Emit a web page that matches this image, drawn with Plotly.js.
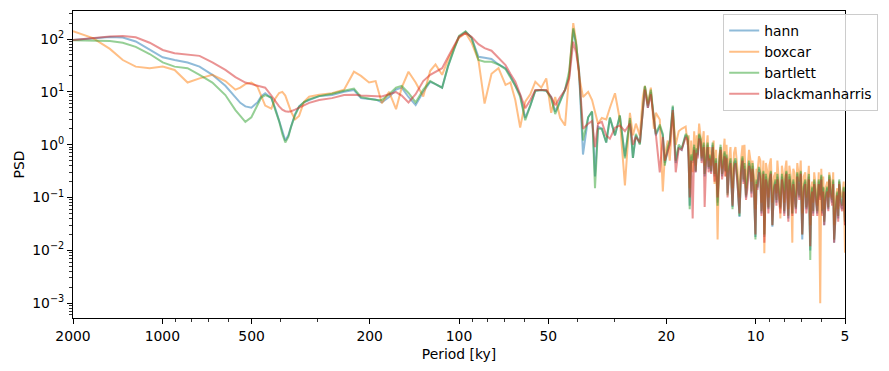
<!DOCTYPE html>
<html>
<head>
<meta charset="utf-8">
<script src="https://cdn.plot.ly/plotly-3.0.1.min.js"></script>
<style>html,body{margin:0;padding:0;background:#fff;}#chart{width:889px;height:371px;}</style>
</head>
<body>
<div id="chart"></div>
<script>
// Period axis [ky]
const period = [2000,1713,1502,1359,1229,1103,997,909,822,749,
678,613,567,546,525,501,478,464,450,429,
416,404,394,385,376,368,357,346,333,320,
296,268,244,226,214,201,191,182,172,163,
156,148,140,132,125,120,114,109,104,100,
95,90.7,86,82,77.7,73.6,69.7,67.1,64.6,62.2,
59.8,57.5,55.3,52.8,50.8,48.9,47.4,45.6,43.9,42.5,
41.2,40.3,39.4,38.2,36.7,35.6,34.8,34.0,33.0,31.9,
31.0,29.8,28.7,
27.59,26.54,25.93,25.34,24.57,24.00,23.63,23.09,22.56,22.04,
21.71,21.05,20.56,20.25,19.79,19.48,19.03,18.60,18.17,17.76,
17.22,
16.95,16.82,16.69,16.50,16.31,16.12,15.93,15.81,15.69,15.51,
15.33,15.21,15.09,14.97,14.86,14.69,14.52,14.41,14.30,14.13,
13.97,13.86,13.76,13.60,13.44,13.28,13.13,12.98,12.83,12.73,
12.64,12.54,12.44,12.30,12.16,12.06,11.97,11.83,11.70,11.52,
11.34,11.21,11.08,10.99,10.91,10.78,10.66,10.53,10.41,10.33,
10.25,10.13,10.02,9.94,9.865,9.75,9.64,9.56,9.49,9.42,
9.35,9.24,9.13,9.06,8.99,8.89,8.785,8.68,8.58,8.51,
8.45,8.35,8.256,8.16,8.07,8.01,7.945,7.88,7.823,7.76,
7.70,7.61,7.525,7.47,7.41,7.32,7.24,7.18,7.13,7.05,
6.966,6.89,6.806,6.75,6.70,6.62,6.547,6.50,6.447,6.40,
6.35,6.27,6.20,6.13,6.06,6.01,5.97,5.92,5.875,5.81,
5.74,5.69,5.65,5.59,5.525,5.48,5.44,5.37,5.31,5.27,
5.23,5.17,5.11,5.05,5.00];

const hann = [96,102,109,107,90,63,45,40,36,30,
21,13,7.8,6.2,5.3,5.0,6.3,8.3,9.4,7.6,
4.8,2.9,1.8,1.2,1.5,2.3,3.8,5.3,6.3,7.0,
8.3,8.7,10,10.8,7.6,7.3,7.2,6.3,8,11,
12,8,5.6,10,15.5,14,12,30,65,110,
137,105,46,44,42,33,28,20,13.5,8.7,
3.2,5.5,10.5,10.8,10.5,8,4.2,7,11,20,
150,80,25,0.65,3.3,4.2,0.25,2.2,2.0,1.1,
3.2,1.5,3.5,
0.6,2.9,0.56,1.5,1.05,5,12.5,5,10,3,
1.5,2.2,1.5,0.45,0.8,1.1,5.2,0.45,0.9,0.8,
1.5,
1.3,0.5,0.07,0.6,0.45,0.9,0.3,0.8,0.6,1.5,
1.2,0.5,0.7,1.0,0.25,0.5,1,0.35,0.6,0.3,
1,0.5,0.25,0.5,0.08,0.4,0.9,0.25,0.45,0.7,
0.3,0.6,0.12,0.35,0.5,0.2,0.066,0.4,0.5,0.2,
0.043,0.3,0.55,0.2,0.4,0.1,0.19,0.45,0.3,0.12,
0.4,0.15,0.018,0.2,0.15,0.35,0.25,0.05,0.1,0.3,
0.018,0.25,0.15,0.06,0.2,0.3,0.028,0.15,0.2,0.08,
0.25,0.12,0.06,0.25,0.15,0.05,0.2,0.3,0.1,0.04,
0.25,0.15,0.05,0.2,0.12,0.06,0.28,0.15,0.1,0.3,
0.016,0.15,0.2,0.06,0.08,0.25,0.01,0.1,0.15,0.05,
0.2,0.1,0.05,0.2,0.1,0.25,0.05,0.15,0.03,0.1,
0.15,0.06,0.25,0.12,0.08,0.2,0.014,0.06,0.12,0.04,
0.2,0.08,0.06,0.15,0.03];

const boxcar = [141,104,65,40,30,28,30,26,15,18,
21,16,11,12,14,15,12.5,8.5,5.5,4.8,
7.5,9.5,10,8.5,6,4.2,3.0,3.5,6.5,8.1,
8.8,9.4,11,24,20,15,16,6.1,10,4.7,
12,24,15,8.2,25,33,21,40,70,105,
130,85,40,6,22,28,13.5,15,7,2.1,
6.5,9,15.5,12,18,4,8,3.2,2.3,25,
200,90,20,8,10,7,4,2.5,3.2,3,
5,9.4,3,
0.17,4,1.5,2.5,1.5,8,13,6,12,2,
4,3,0.13,0.6,1.2,0.5,4,1,1.8,2,
2.2,
1,1.5,0.15,1.2,0.3,1.8,0.4,1.5,0.8,2.5,
1.4,0.6,1.2,1.8,0.4,0.9,1.5,0.5,0.9,0.4,
0.8,1.2,0.18,0.8,0.016,0.6,0.9,0.35,0.8,1.3,
0.25,1,0.3,0.6,0.9,0.3,0.15,0.7,0.9,0.35,
0.1,0.5,0.97,0.35,1,0.15,0.35,0.8,0.5,0.2,
0.5,0.25,0.06,0.35,0.3,0.6,0.5,0.08,0.2,0.5,
0.0088,0.45,0.3,0.1,0.4,0.55,0.08,0.25,0.3,0.12,
0.5,0.2,0.04,0.4,0.25,0.08,0.35,0.5,0.2,0.06,
0.4,0.25,0.014,0.35,0.3,0.1,0.45,0.25,0.2,0.5,
0.05,0.25,0.3,0.1,0.15,0.4,0.03,0.15,0.2,0.08,
0.3,0.15,0.07,0.3,0.001,0.35,0.1,0.25,0.06,0.15,
0.2,0.1,0.3,0.2,0.1,0.3,0.03,0.1,0.15,0.06,
0.2,0.12,0.1,0.2,0.009];

const bartlett = [95,94,92,85,71,52,36,30,28,21,
15,8.7,4.5,3.5,2.7,3.3,5.8,7.8,8.7,7.8,
4.5,2.8,1.6,1.1,1.4,2.2,3.6,5.2,6.4,7.2,
8.3,9.2,10.5,11.5,8,7.5,7.0,7,9,12,
13,9.5,6.3,11,16,14,12,30,65,115,
140,105,40,37,37,33,27,19,13,8,
2.9,5.5,10.5,10.8,10.5,7.5,3.8,6.5,11,25,
160,80,25,1.2,3.3,4.3,0.15,2.0,2.0,1.1,
3.3,1.5,3.6,
0.55,3.2,0.56,1.6,1.0,5.5,13,5.5,11,3.2,
1.6,2.4,1.6,0.4,0.9,1.2,5.5,0.5,1.0,0.85,
1.6,
1.4,0.55,0.06,0.65,0.5,1.0,0.32,0.85,0.65,1.6,
1.3,0.55,0.75,1.1,0.28,0.55,1.1,0.38,0.65,0.32,
1.1,0.55,0.28,0.55,0.07,0.45,1.0,0.28,0.5,0.75,
0.32,0.65,0.11,0.38,0.55,0.22,0.06,0.45,0.55,0.22,
0.045,0.32,0.6,0.22,0.45,0.11,0.2,0.5,0.32,0.13,
0.45,0.16,0.016,0.22,0.16,0.38,0.28,0.055,0.11,0.32,
0.02,0.28,0.16,0.065,0.22,0.32,0.03,0.16,0.22,0.09,
0.28,0.13,0.065,0.28,0.16,0.055,0.22,0.32,0.11,0.045,
0.28,0.16,0.05,0.22,0.13,0.065,0.3,0.16,0.11,0.32,
0.02,0.16,0.22,0.065,0.09,0.28,0.0066,0.11,0.16,0.055,
0.22,0.11,0.055,0.22,0.11,0.27,0.055,0.16,0.035,0.11,
0.16,0.065,0.27,0.13,0.09,0.22,0.016,0.065,0.13,0.045,
0.22,0.09,0.07,0.16,0.035];

const blackmanharris = [96,105,112,114,108,85,62,54,50,48,
36,26,19,17,15,14,13,12.5,12,8.5,
6.5,5.3,4.6,4.3,4.2,4.3,4.6,5.0,5.6,6.2,
7.0,7.6,8.7,8.8,8.5,8.3,8.1,8.2,9,9.9,
8.5,6.3,9,16,21,24,28,45,75,110,
130,110,80,67,60,44,32,22,15.5,9,
4.9,7,10.8,10.8,10.8,8,5.6,8,10.8,18,
89,55,24,2.0,2.5,2.8,0.9,2.5,2.7,1.5,
1.3,2.1,2.3,
1.8,2.5,1.0,1.4,1.1,4.5,11,5,9,3,
1.6,0.3,1.4,0.5,0.8,1.0,4.5,0.3,0.85,0.8,
1.4,
1.2,0.45,0.1,0.5,0.04,0.8,0.3,0.7,0.55,1.3,
1.1,0.45,0.6,0.9,0.066,0.45,0.9,0.3,0.55,0.28,
0.9,0.45,0.2,0.45,0.1,0.35,0.8,0.22,0.4,0.6,
0.25,0.55,0.1,0.3,0.45,0.18,0.07,0.35,0.45,0.18,
0.05,0.28,0.5,0.18,0.35,0.09,0.15,0.4,0.28,0.1,
0.35,0.13,0.02,0.18,0.14,0.3,0.22,0.045,0.09,0.28,
0.014,0.22,0.14,0.05,0.18,0.28,0.03,0.13,0.18,0.07,
0.22,0.1,0.05,0.22,0.13,0.045,0.18,0.28,0.09,0.035,
0.22,0.13,0.045,0.18,0.11,0.05,0.25,0.13,0.09,0.28,
0.02,0.13,0.18,0.05,0.07,0.22,0.012,0.09,0.13,0.045,
0.18,0.09,0.045,0.18,0.09,0.22,0.045,0.13,0.03,0.09,
0.13,0.055,0.22,0.11,0.07,0.18,0.014,0.055,0.11,0.035,
0.18,0.07,0.055,0.13,0.03];

const seriesNames = ['hann','boxcar','bartlett','blackmanharris'];
const seriesData = [hann, boxcar, bartlett, blackmanharris];
const seriesColors = ['#1f77b4','#ff7f0e','#2ca02c','#d62728'];

const xTickVals = [2000,1000,500,200,100,50,20,10,5];
const xTickText = ['2000','1000','500','200','100','50','20','10','5'];
const xMinorVals = [900,800,700,600,400,300,90,80,70,60,40,30,9,8,7,6];
const yTickVals = [1e-3,1e-2,1e-1,1,10,100];
const yTickText = ['10<sup>\u22123</sup>','10<sup>\u22122</sup>','10<sup>\u22121</sup>','10<sup>0</sup>','10<sup>1</sup>','10<sup>2</sup>'];
const yMinorVals = [];
for (let e = -4; e <= 2; e++) for (let m = 2; m <= 9; m++) yMinorVals.push(m * Math.pow(10, e));

const traces = seriesNames.map((n, i) => ({
  x: period, y: seriesData[i], name: n, type: 'scatter', mode: 'lines',
  line: {color: seriesColors[i], width: 2}, opacity: 0.5
}));

const font = {family: 'DejaVu Sans, sans-serif', size: 13.9, color: '#000'};
const layout = {
  width: 889, height: 371,
  margin: {l: 73, r: 41, t: 11, b: 53},
  paper_bgcolor: '#fff', plot_bgcolor: '#fff',
  font: font,
  showlegend: true,
  legend: {x: 1.043, xanchor: 'right', y: 0.99, yanchor: 'top',
           bgcolor: 'rgba(255,255,255,0.8)', bordercolor: '#cccccc', borderwidth: 1,
           font: font, itemwidth: 30, tracegroupgap: 0},
  xaxis: {
    type: 'log', range: [Math.log10(2000), Math.log10(5)], autorange: false,
    tickmode: 'array', tickvals: xTickVals, ticktext: xTickText,
    ticks: 'outside', ticklen: 5, tickwidth: 1, tickcolor: '#000',
    minor: {tickvals: xMinorVals, ticks: 'outside', ticklen: 3, tickwidth: 0.8, tickcolor: '#000', showgrid: false},
    showline: true, mirror: true, linecolor: '#000', linewidth: 1,
    showgrid: false, zeroline: false, automargin: false,
    title: {text: 'Period [ky]', font: font, standoff: 6}
  },
  yaxis: {
    type: 'log', range: [-3.28, 2.53], autorange: false,
    tickmode: 'array', tickvals: yTickVals, ticktext: yTickText,
    ticks: 'outside', ticklen: 5, tickwidth: 1, tickcolor: '#000',
    minor: {tickvals: yMinorVals, ticks: 'outside', ticklen: 3, tickwidth: 0.8, tickcolor: '#000', showgrid: false},
    showline: true, mirror: true, linecolor: '#000', linewidth: 1,
    showgrid: false, zeroline: false, automargin: false,
    title: {text: 'PSD', font: font, standoff: 4}
  }
};
Plotly.newPlot('chart', traces, layout, {displayModeBar: false, staticPlot: true});
</script>
</body>
</html>
